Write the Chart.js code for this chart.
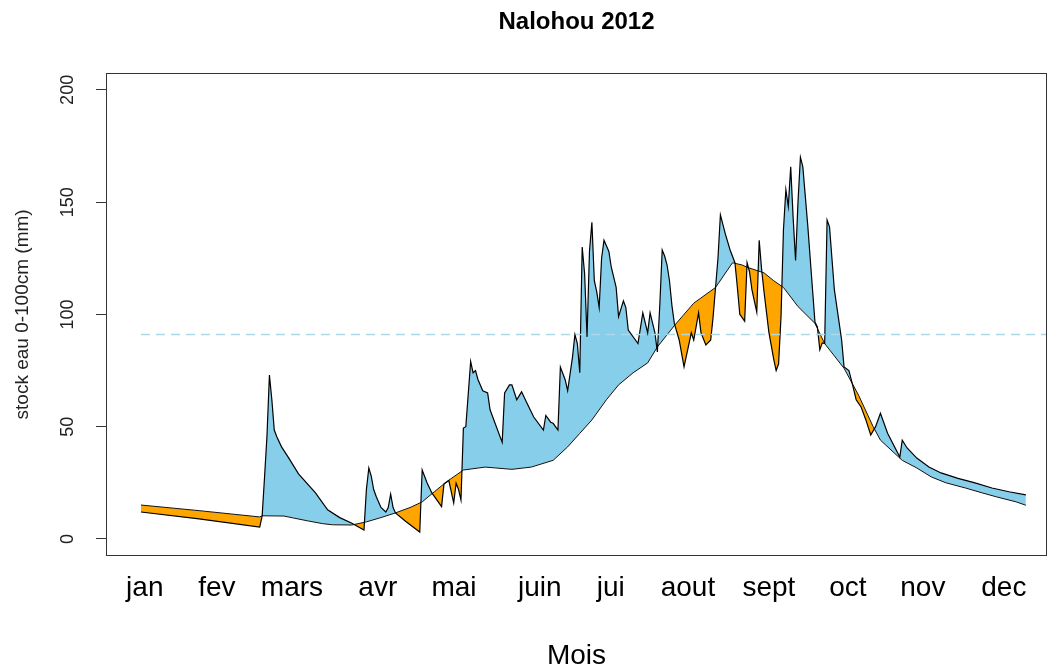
<!DOCTYPE html>
<html>
<head>
<meta charset="utf-8">
<script src="https://cdn.jsdelivr.net/npm/chart.js@4/dist/chart.umd.min.js"></script>
<style>
  html, body { margin: 0; padding: 0; background: #fff; }
  #c { display: block; }
</style>
</head>
<body>
<canvas id="c" width="1052" height="670"></canvas>
<script>
// ---- data (day of year 2012, mm) ----
const months = ['jan','fev','mars','avr','mai','juin','jui','aout','sept','oct','nov','dec'];
const monthPos = [2.6, 32.3, 63.3, 98.7, 130.1, 165.5, 194.8, 226.6, 260.0, 292.6, 323.5, 356.9];
const yTicks = [0, 50, 100, 150, 200];
const seuil = 91;

const obsDays = [1,25,50,51,52,53,54,55,56,57,59,62,66,73,78,83,88,93,94,95,96,97,98,100,102,103,104,105,106,110,116,117,119,121,125,126,128,130,131,132,133,134,135,137,138,139,140,142,144,145,150,151,153,154,156,158,160,163,167,168,170,171,173,174,176,177,179,180,181,182,183,184,185,186,187,188,189,190,191,192,194,195,197,198,200,201,202,206,208,210,211,213,214,215,216,217,218,219,220,221,223,225,228,229,231,232,234,236,237,238,239,240,242,244,246,247,248,250,251,252,253,255,256,257,258,260,262,263,264,265,266,267,268,269,270,271,272,273,274,276,278,279,280,281,282,283,284,285,287,290,291,293,294,296,298,300,302,304,306,309,314,315,317,321,326,331,338,345,352,359,366];
const obsVals = [12.0,8.9,5.3,10.3,27.7,46,73,62,48.5,45.6,41,36,29,20.5,13,9.5,7,4,22,31.6,28,22,19,14,12,14,20,14,11.6,8,3.1,30.7,25,20.5,14.4,24.5,26,16,24.8,22,17.4,49.4,50,79,74,75,71,66,65,57.5,43,65,68.6,68.6,62,65.5,61,54.3,48.5,55,52,51.5,48.5,76.6,70.8,66,81,91,87,74,130,118,90,128,141,115,110,103,125,133,128,121,112,99,106,103,93,87,100.7,91.8,100.7,91.8,83.3,104,128.7,126,122,115,104,96,88.6,76.6,91.8,88.6,100.7,91.8,86.4,88.6,99,112,125,144.3,136,128.7,123,112,100,97,123,119,111,101,133,120,110,92,80,75,78,99,137.6,155.5,148,165.7,143,124,150,170,165.7,140,111,96.6,94.4,84.2,87.3,87,142,139,111,88.6,76.6,75,70.8,62,58.8,53,46.3,50,56,47,36.5,44,40.5,36,32,29.4,27,25,22.7,21,19.6];

const refDays = [1,25,50,51,60,64,70,76,80,88,94,100,106,112,117,122,127,134,143,154,162,171,177,182,187,193,198,204,210,214,221,229,238,245,249,251,258,262,266,272,279,283,291,297,303,306,315,321,327,333,341,348,354,362,366];
const refVals = [15.1,12.6,9.8,10.3,10.2,9.3,8.0,6.8,6.3,6.2,7.6,9.5,11.6,14,16.5,21,25.4,30.7,32,31,32,35,41,47,53,62,68.6,74,78.4,85.5,95,105,112,123,122,121,118.5,115,112,103.5,96,87,76,64,50,44,35,31.6,27.6,25,22.7,20.5,18.7,16.5,15];

const FONT = "'Liberation Sans', Arial, Helvetica, sans-serif";

const boxPlugin = {
  id: 'box',
  afterDraw(chart) {
    const a = chart.chartArea, ctx = chart.ctx;
    ctx.save();
    ctx.strokeStyle = '#333';
    ctx.lineWidth = 1;
    ctx.strokeRect(Math.round(a.left) + 0.5, Math.round(a.top) + 0.5,
                   Math.round(a.right - a.left) - 1, Math.round(a.bottom - a.top) - 1);
    ctx.restore();
  }
};

new Chart(document.getElementById('c'), {
  type: 'line',
  data: {
    datasets: [
      {
        label: 'stock observé',
        data: obsDays.map((d, i) => ({ x: d, y: obsVals[i] })),
        borderColor: '#000',
        borderWidth: 1.2,
        pointRadius: 0,
        tension: 0,
        fill: { target: 1, above: '#87CEEB', below: '#FFA500' },
        order: 1
      },
      {
        label: 'stock moyen',
        data: refDays.map((d, i) => ({ x: d, y: refVals[i] })),
        borderColor: '#111',
        borderWidth: 1,
        pointRadius: 0,
        tension: 0,
        fill: false,
        order: 2
      },
      {
        label: 'seuil',
        data: [{ x: 1, y: seuil }, { x: 380, y: seuil }],
        borderColor: '#ADD8E6',
        borderDash: [9, 6],
        borderWidth: 1.5,
        pointRadius: 0,
        fill: false,
        order: 0
      }
    ]
  },
  options: {
    responsive: false,
    animation: false,
    devicePixelRatio: 1,
    layout: { padding: { left: 0, right: 5, top: 0, bottom: 0 } },
    plugins: {
      legend: { display: false },
      tooltip: { enabled: false },
      filler: { drawTime: 'beforeDatasetsDraw' },
      title: {
        display: true,
        text: 'Nalohou 2012',
        fullSize: false,
        color: '#000',
        font: { family: FONT, size: 24, weight: 'bold', lineHeight: 1.2 },
        padding: { top: 8, bottom: 36 }
      }
    },
    scales: {
      x: {
        type: 'linear',
        min: -13.4,
        max: 374.7,
        grid: { display: false, drawTicks: false },
        border: { display: false },
        afterBuildTicks: s => { s.ticks = monthPos.map(v => ({ value: v })); },
        afterFit: s => { s.height = 114; },
        ticks: {
          autoSkip: false,
          minRotation: 0,
          maxRotation: 0,
          padding: 15,
          color: '#000',
          font: { family: FONT, size: 28 },
          callback: (v, i) => months[i]
        },
        title: {
          display: true,
          text: 'Mois',
          color: '#000',
          font: { family: FONT, size: 28, lineHeight: 1 },
          padding: { top: 0, bottom: 0 }
        }
      },
      y: {
        type: 'linear',
        min: -7.6,
        max: 207.6,
        grid: { drawOnChartArea: false, drawTicks: true, tickLength: 10, color: '#333' },
        border: { display: false },
        afterBuildTicks: s => { s.ticks = yTicks.map(v => ({ value: v })); },
        afterFit: s => { s.width = 106; },
        ticks: {
          minRotation: 90,
          maxRotation: 90,
          crossAlign: 'center',
          padding: 13,
          color: '#222',
          font: { family: FONT, size: 18 },
          callback: v => String(v)
        },
        title: {
          display: true,
          text: 'stock eau 0-100cm (mm)',
          color: '#222',
          font: { family: FONT, size: 19, lineHeight: 1.2 },
          padding: { top: 11, bottom: 0 }
        }
      }
    }
  },
  plugins: [boxPlugin]
});
</script>
</body>
</html>
